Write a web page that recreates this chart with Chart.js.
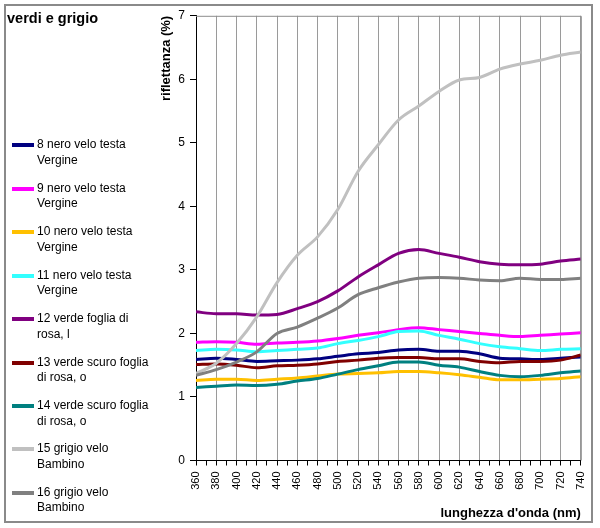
<!DOCTYPE html>
<html>
<head>
<meta charset="utf-8">
<script src="https://cdn.jsdelivr.net/npm/chart.js@4.4.0/dist/chart.umd.min.js"></script>
<style>
  html, body { margin: 0; padding: 0; background: #fff; }
  #wrap { position: relative; width: 600px; height: 528px; overflow: hidden; font-family: Arial, "Liberation Sans", sans-serif; }
  #frame { position: absolute; left: 4px; top: 4px; width: 589px; height: 519px; box-sizing: border-box; border: 2px solid #8a8a8a; }
  #chart { position: absolute; left: 0; top: 0; }
  #legendTitle { position: absolute; left: 7px; top: 10px; font-weight: bold; font-size: 14.5px; line-height: 16px; color: #000; }
  .item { position: absolute; left: 0; font-size: 12px; line-height: 15.5px; color: #000; }
  .item .swatch { position: absolute; left: 12px; top: 6px; width: 22px; height: 4px; }
  .item .txt { position: absolute; left: 37px; top: 0; white-space: nowrap; }
</style>
</head>
<body>
<div id="wrap">
  <div id="frame"></div>
  <canvas id="chart" width="600" height="528"></canvas>
  <div id="legendTitle">verdi e grigio</div>
  <div id="legend"></div>
</div>
<script>
/* === DADOS === */
const wavelengths = [360,380,400,420,440,460,480,500,520,540,560,580,600,620,640,660,680,700,720,740];

const seriesLabels = [
  ["8 nero velo testa", "Vergine"],
  ["9 nero velo testa", "Vergine"],
  ["10 nero velo testa", "Vergine"],
  ["11 nero velo testa", "Vergine"],
  ["12 verde foglia di", "rosa, l"],
  ["13 verde scuro foglia", "di rosa, o"],
  ["14 verde scuro foglia", "di rosa, o"],
  ["15 grigio velo", "Bambino"],
  ["16 grigio velo", "Bambino"]
];
const seriesColors = ["#000080","#ff00ff","#ffc000","#33ffff","#800080","#800000","#008080","#c0c0c0","#808080"];

const s8  = [1.59,1.61,1.59,1.56,1.57,1.58,1.60,1.64,1.68,1.70,1.74,1.75,1.72,1.72,1.68,1.61,1.60,1.59,1.61,1.63];
const s9  = [1.86,1.87,1.86,1.83,1.85,1.86,1.88,1.92,1.97,2.01,2.06,2.09,2.06,2.03,2.00,1.97,1.95,1.97,1.99,2.01];
const s10 = [1.26,1.28,1.28,1.26,1.28,1.30,1.33,1.36,1.37,1.38,1.40,1.40,1.38,1.35,1.31,1.27,1.27,1.28,1.29,1.32];
const s11 = [1.73,1.75,1.74,1.71,1.73,1.75,1.77,1.84,1.89,1.95,2.03,2.04,1.97,1.91,1.84,1.79,1.76,1.73,1.75,1.76];
const s12 = [2.34,2.31,2.31,2.29,2.30,2.39,2.50,2.67,2.89,3.08,3.26,3.32,3.26,3.20,3.13,3.09,3.08,3.09,3.14,3.17];
const s13 = [1.51,1.52,1.50,1.46,1.49,1.50,1.52,1.56,1.58,1.61,1.62,1.62,1.60,1.60,1.56,1.54,1.56,1.56,1.58,1.66];
const s14 = [1.15,1.17,1.19,1.18,1.20,1.25,1.29,1.36,1.43,1.49,1.55,1.55,1.50,1.47,1.40,1.34,1.32,1.34,1.38,1.41];
const s15 = [1.37,1.53,1.84,2.26,2.80,3.23,3.52,3.95,4.55,4.97,5.36,5.58,5.81,5.99,6.03,6.16,6.24,6.30,6.38,6.43];
const s16 = [1.34,1.43,1.55,1.71,2.00,2.10,2.24,2.40,2.61,2.72,2.81,2.87,2.88,2.87,2.84,2.83,2.87,2.85,2.85,2.87];
const allSeries = [s8,s9,s10,s11,s12,s13,s14,s15,s16];

/* === BORDA DA ÁREA DO GRÁFICO === */
const plotBorder = {
  id: 'plotBorder',
  afterDatasetsDraw(chart){
    const a = chart.chartArea, c = chart.ctx;
    c.save();
    c.strokeStyle = '#8c8c8c';
    c.lineWidth = 1;
    c.beginPath();
    c.moveTo(a.left, a.top + 0.5);
    c.lineTo(a.right + 0.5, a.top + 0.5);
    c.lineTo(a.right + 0.5, a.bottom);
    c.stroke();
    c.restore();
  }
};

const datasets = allSeries.map((vals, i) => ({
  label: seriesLabels[i].join(' '),
  data: vals.map((v, k) => ({ x: wavelengths[k], y: v })),
  borderColor: seriesColors[i],
  backgroundColor: seriesColors[i],
  borderWidth: 3,
  pointRadius: 0,
  cubicInterpolationMode: 'monotone',
  fill: false,
  order: allSeries.length - i
}));

const chart = new Chart(document.getElementById('chart'), {
  type: 'line',
  data: { datasets },
  options: {
    responsive: false,
    animation: false,
    layout: { padding: { left: 155, top: 15.8, right: 16.7, bottom: 2.5 } },
    plugins: { legend: { display: false }, tooltip: { enabled: false } },
    scales: {
      x: {
        type: 'linear',
        min: 360, max: 740,
        afterFit(scale){ scale.height = 65; },
        ticks: {
          stepSize: 10,
          autoSkip: false,
          minRotation: 90, maxRotation: 90,
          padding: 6,
          color: '#000',
          font: { family: 'Arial', size: 11 },
          callback: v => (v % 20 === 0 ? String(v) : '')
        },
        grid: {
          color: ctx => (ctx.tick && ctx.tick.value % 20 === 0 && ctx.tick.value !== 360 ? '#9a9a9a' : 'rgba(0,0,0,0)'),
          tickColor: '#000',
          tickLength: 5,
          lineWidth: 1
        },
        border: { display: true, color: '#000', width: 1 },
        title: {
          display: true, text: "lunghezza d'onda (nm)", align: 'end',
          color: '#000', font: { family: 'Arial', size: 13, weight: 'bold' },
          padding: { top: 4, bottom: 4 }
        }
      },
      y: {
        min: 0, max: 7,
        afterFit(scale){ scale.width = 41; },
        ticks: {
          stepSize: 1, padding: 5, color: '#000',
          font: { family: 'Arial', size: 12 }
        },
        grid: { drawOnChartArea: false, tickColor: '#000', tickLength: 6 },
        border: { display: true, color: '#000', width: 1 },
        title: {
          display: true, text: 'riflettanza (%)', align: 'end',
          color: '#000', font: { family: 'Arial', size: 13, weight: 'bold' },
          padding: { top: 4, bottom: 4 }
        }
      }
    }
  },
  plugins: [plotBorder]
});

/* === LEGENDA HTML === */
const legendEl = document.getElementById('legend');
seriesLabels.forEach((lines, i) => {
  const item = document.createElement('div');
  item.className = 'item';
  item.style.top = (137.3 + i * 43.45) + 'px';
  const sw = document.createElement('div');
  sw.className = 'swatch';
  sw.style.background = seriesColors[i];
  const tx = document.createElement('div');
  tx.className = 'txt';
  tx.innerHTML = lines.join('<br>');
  item.appendChild(sw);
  item.appendChild(tx);
  legendEl.appendChild(item);
});
</script>
</body>
</html>
